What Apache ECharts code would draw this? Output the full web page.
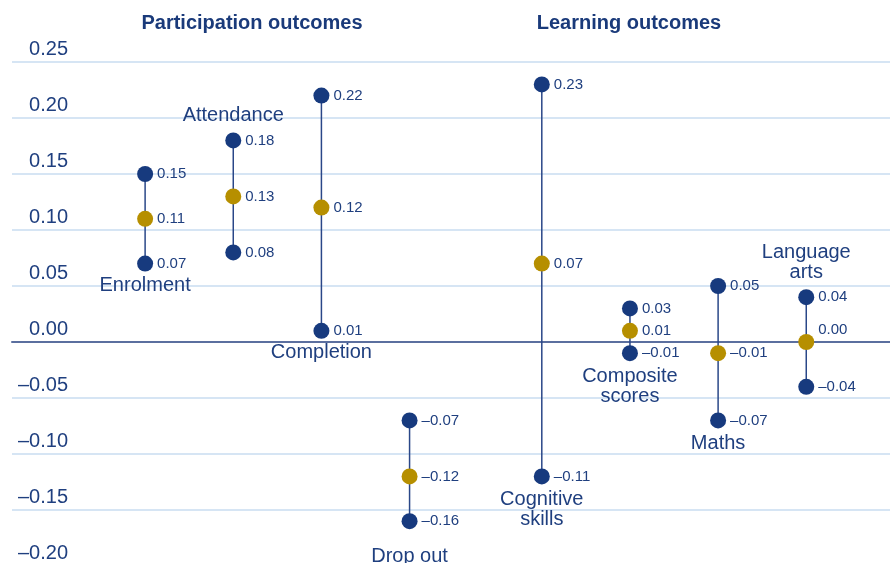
<!DOCTYPE html>
<html>
<head>
<meta charset="utf-8">
<script src="https://cdn.jsdelivr.net/npm/echarts@6/dist/echarts.min.js"></script>
<style>
  html, body { margin: 0; padding: 0; background: #fff; overflow: hidden; }
  #chart { width: 890px; height: 570px; }
</style>
</head>
<body>
<div id="chart"></div>
<script>
// outcome ranges: upper / point estimate / lower
var categories = ['Enrolment', 'Attendance', 'Completion', 'Drop out', 'Cognitive\nskills', 'Composite\nscores', 'Maths', 'Language\narts'];
var xPos = [1, 2, 3, 4, 5.5, 6.5, 7.5, 8.5];
var upper = [0.15, 0.18, 0.22, -0.07, 0.23, 0.03, 0.05, 0.04];
var mid = [0.11, 0.13, 0.12, -0.12, 0.07, 0.01, -0.01, 0.00];
var lower = [0.07, 0.08, 0.01, -0.16, -0.12, -0.01, -0.07, -0.04];
var upperText = ['0.15', '0.18', '0.22', '–0.07', '0.23', '0.03', '0.05', '0.04'];
var midText = ['0.11', '0.13', '0.12', '–0.12', '0.07', '0.01', '–0.01', '0.00'];
var lowerText = ['0.07', '0.08', '0.01', '–0.16', '–0.11', '–0.01', '–0.07', '–0.04'];

// where each category name sits (above top dot or below bottom dot)
var nameSide = ['bottom', 'top', 'bottom', 'bottom', 'bottom', 'bottom', 'bottom', 'top'];
var nameGap = [4, 7, 4, 17, 5, 5, 5, 7];

var navy = '#173a7e';
var gold = '#b68f00';
var ink = '#1f3f7f';
var font = "'Liberation Sans', Arial, sans-serif";

var chart = echarts.init(document.getElementById('chart'), null, { renderer: 'canvas' });

var rangeData = xPos.map(function(x, i) { return [x, upper[i], lower[i]]; });

var navyData = [];
xPos.forEach(function(x, i) {
  navyData.push({ value: [x, upper[i]], label: { formatter: upperText[i] } });
  navyData.push({ value: [x, lower[i]], label: { formatter: lowerText[i] } });
});

var goldData = xPos.map(function(x, i) {
  var item = { value: [x, mid[i]], label: { formatter: midText[i] } };
  if (mid[i] === 0) item.label.offset = [0, -12];
  return item;
});

var nameData = xPos.map(function(x, i) {
  var y = nameSide[i] === 'top' ? upper[i] : lower[i];
  return {
    value: [x, y],
    label: { position: nameSide[i], distance: nameGap[i], formatter: categories[i] }
  };
});

chart.setOption({
  animation: false,
  textStyle: { fontFamily: font },
  graphic: [
    { type: 'text', x: 252, y: 23, style: { text: 'Participation outcomes', fill: '#1a3a7a', font: 'bold 20px ' + font, textAlign: 'center', textVerticalAlign: 'middle' } },
    { type: 'text', x: 629, y: 23, style: { text: 'Learning outcomes', fill: '#1a3a7a', font: 'bold 20px ' + font, textAlign: 'center', textVerticalAlign: 'middle' } }
  ],
  grid: { left: 12, right: 0, top: 62, bottom: 4, containLabel: false },
  xAxis: {
    type: 'value',
    min: -0.51,
    max: 9.45,
    axisLine: { show: true, onZero: true, lineStyle: { color: '#5b6f9f', width: 2 } },
    axisTick: { show: false },
    axisLabel: { show: false },
    splitLine: { show: false }
  },
  yAxis: {
    type: 'value',
    min: -0.2,
    max: 0.25,
    interval: 0.05,
    axisLine: { show: false },
    axisTick: { show: false },
    axisLabel: {
      inside: true,
      margin: 56,
      align: 'right',
      verticalAlign: 'bottom',
      padding: [0, 0, 3, 0],
      color: ink,
      fontSize: 20,
      formatter: function(v) {
        var s = Math.abs(v).toFixed(2);
        return v < -1e-9 ? '–' + s : s;
      }
    },
    splitLine: { lineStyle: { color: '#c9ddf0', width: 1.5 } }
  },
  series: [
    {
      type: 'custom',
      z: 2,
      data: rangeData,
      renderItem: function(params, api) {
        var a = api.coord([api.value(0), api.value(1)]);
        var b = api.coord([api.value(0), api.value(2)]);
        return {
          type: 'line',
          shape: { x1: a[0], y1: a[1], x2: b[0], y2: b[1] },
          style: { stroke: '#2a4788', lineWidth: 1.5 }
        };
      }
    },
    {
      type: 'scatter',
      z: 3,
      symbolSize: 16,
      itemStyle: { color: navy, opacity: 1 },
      label: { show: true, position: 'right', distance: 4, color: ink, fontSize: 15 },
      data: navyData
    },
    {
      type: 'scatter',
      z: 4,
      symbolSize: 16,
      itemStyle: { color: gold, opacity: 1 },
      label: { show: true, position: 'right', distance: 4, color: ink, fontSize: 15 },
      data: goldData
    },
    {
      type: 'scatter',
      z: 1,
      symbolSize: 16,
      silent: true,
      itemStyle: { color: 'rgba(0,0,0,0)', opacity: 1 },
      label: { show: true, color: ink, fontSize: 20, lineHeight: 20, align: 'center' },
      data: nameData
    }
  ]
});
</script>
</body>
</html>
